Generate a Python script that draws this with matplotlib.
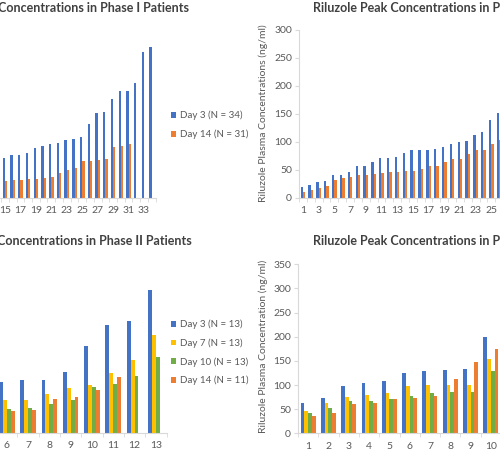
import numpy as np
import matplotlib
matplotlib.use("Agg")
import matplotlib.pyplot as plt

plt.rcParams["font.family"] = ["Lato", "DejaVu Sans"]

# Phase I (34 patients)
p1_trough_day3 = [8, 10, 11, 12, 13, 14, 15, 16, 17, 18, 19, 20, 21, 22.5,
                  23.9, 25.3, 25.5, 26.7, 29.5, 30.7, 31.9, 32.9, 34.7, 35.1,
                  36.5, 44.0, 50.4, 51.4, 59.2, 63.7, 63.7, 68.3, 87.1, 90.0]
p1_trough_day14 = [3, 4, 5, 5.5, 6, 6.5, 7, 7.5, 8, 8.5, 9, 9.5, 10, 10.2,
                   10.4, 11.0, 11.0, 11.4, 11.4, 12.0, 12.7, 15.1, 16.7, 17.7,
                   21.9, 22.3, 22.9, 23.3, 30.3, 31.1, 32.3]
p1_peak_day3 = [20, 24, 29, 31, 41, 41, 46, 57, 58, 65, 71, 72, 73, 80, 85, 85,
                85, 87, 91, 96, 100, 102, 113, 117, 139, 151,
                160, 170, 180, 190, 205, 220, 245, 270]
p1_peak_day14 = [11, 15, 18, 22, 32, 36, 38, 41, 41, 42, 44, 46, 47, 49, 49, 51,
                 57, 58, 64, 69, 70, 79, 85, 86, 97, 104,
                 110, 115, 125, 130, 140]
p1_labels = ["Day 3 (N = 34)", "Day 14 (N = 31)"]

# Phase II (13 patients)
p2_trough_day3 = [25, 30, 35, 40, 45, 47.9, 49.5, 49.8, 57.8, 81.9, 101.9, 106.3, 135.6]
p2_trough_day7 = [18, 20, 24, 27, 29, 31.1, 31.1, 36.2, 41.9, 44.8, 56.8, 68.9, 92.7]
p2_trough_day10 = [12, 14, 16, 18, 20, 21.9, 22.9, 26.7, 30.5, 43.5, 45.7, 53.7, 71.4]
p2_trough_day14 = [10, 12, 14, 16, 18, 20.3, 21.0, 31.7, 34.0, 40.3, 52.7]
p2_peak_day3 = [62, 73, 97, 105, 109, 124, 129, 131, 134, 199, 215, 240, 290]
p2_peak_day7 = [47, 62, 75, 79, 83, 97, 99, 100, 101, 154, 170, 185, 220]
p2_peak_day10 = [42, 52, 66, 67, 72, 78, 84, 86, 85, 130, 140, 150, 180]
p2_peak_day14 = [36, 43, 60, 62, 72, 74, 78, 113, 148, 174, 190]
p2_labels = ["Day 3 (N = 13)", "Day 7 (N = 13)", "Day 10 (N = 13)", "Day 14 (N = 11)"]

BLUE, ORANGE, YELLOW, GREEN = "#4472C4", "#ED7D31", "#FFC000", "#70AD47"
GREY = "#595959"
W, H = 500, 451
TICK_FS = 7.5
TITLE_FS = 9


def px_axes(fig, x0, x1, ytop, ybot):
    return fig.add_axes([x0 / W, 1 - ybot / H, (x1 - x0) / W, (ybot - ytop) / H])


def grouped(ax, series, colors, labels, ncat, bar_w, ymax, odd_only):
    n = len(series)
    for i, (vals, c, lab) in enumerate(zip(series, colors, labels)):
        x = np.arange(1, len(vals) + 1) + (i - (n - 1) / 2) * bar_w
        ax.bar(x, vals, width=bar_w, color=c, label=lab, linewidth=0)
    ax.set_xlim(0.5, ncat + 0.5)
    ax.set_ylim(0, ymax)
    ticks = np.arange(1, ncat + 1, 2 if odd_only else 1)
    ax.set_xticks(ticks)
    ax.set_xticklabels([str(t) for t in ticks])
    ax.set_xticks(np.arange(0.5, ncat + 1), minor=True)
    ax.tick_params(axis="x", which="major", length=0, pad=6, labelsize=TICK_FS, labelcolor=GREY)
    ax.tick_params(axis="x", which="minor", length=3, color="#d9d9d9")
    ax.tick_params(axis="y", length=3, color="#d9d9d9", labelsize=TICK_FS, labelcolor=GREY, pad=2)
    for s in ["top", "right"]:
        ax.spines[s].set_visible(False)
    ax.spines["bottom"].set_color("#d9d9d9")
    ax.spines["left"].set_color("#d9d9d9")


def add_legend(ax, y_px):
    ax.legend(loc="center left", bbox_to_anchor=(171 / W, 1 - y_px / H), bbox_transform=fig.transFigure,
              frameon=False, fontsize=7, labelcolor=GREY, handlelength=0.55, handleheight=0.55,
              handletextpad=0.4, labelspacing=0.95, borderpad=0, borderaxespad=0)


fig = plt.figure(figsize=(5, 4.51), dpi=100)

# top left: trough, phase I
ax1 = px_axes(fig, -107, 155.6, 30, 198)
grouped(ax1, [p1_trough_day3, p1_trough_day14], [BLUE, ORANGE], p1_labels, 34, 0.3, 100, True)
add_legend(ax1, 125)
fig.text(189 / W, 1 - 8 / H, "Riluzole Trough Concentrations in Phase I Patients",
         ha="right", va="center", fontsize=TITLE_FS, fontweight="bold", color="#404040")

# top right: peak, phase I
ax2 = px_axes(fig, 299, 299 + 34 * 7.85, 30, 198)
grouped(ax2, [p1_peak_day3, p1_peak_day14], [BLUE, ORANGE], p1_labels, 34, 0.3, 300, True)
ax2.set_yticks(np.arange(0, 301, 50))
fig.text(263 / W, 1 - 113 / H, "Riluzole Plasma Concentrations (ng/ml)", rotation=90,
         ha="center", va="center", fontsize=7.5, color=GREY)
fig.text(313 / W, 1 - 8 / H, "Riluzole Peak Concentrations in Phase I Patients",
         ha="left", va="center", fontsize=TITLE_FS, fontweight="bold", color="#404040")

# bottom left: trough, phase II
ax3 = px_axes(fig, -110.4, 166.5, 264.3, 432.5)
grouped(ax3, [p2_trough_day3, p2_trough_day7, p2_trough_day10, p2_trough_day14],
        [BLUE, YELLOW, GREEN, ORANGE], p2_labels, 13, 0.184, 160, False)
add_legend(ax3, 352.5)
fig.text(192 / W, 1 - 241 / H, "Riluzole Trough Concentrations in Phase II Patients",
         ha="right", va="center", fontsize=TITLE_FS, fontweight="bold", color="#404040")

# bottom right: peak, phase II
ax4 = px_axes(fig, 298, 298 + 13 * 20.3, 264.3, 433.3)
grouped(ax4, [p2_peak_day3, p2_peak_day7, p2_peak_day10, p2_peak_day14],
        [BLUE, YELLOW, GREEN, ORANGE], p2_labels, 13, 0.184, 350, False)
ax4.set_yticks(np.arange(0, 351, 50))
fig.text(263 / W, 1 - 346 / H, "Riluzole Plasma Concentration (ng/ml)", rotation=90,
         ha="center", va="center", fontsize=7.5, color=GREY)
fig.text(313 / W, 1 - 241 / H, "Riluzole Peak Concentrations in Phase II Patients",
         ha="left", va="center", fontsize=TITLE_FS, fontweight="bold", color="#404040")

fig.savefig("out.png", dpi=100)
